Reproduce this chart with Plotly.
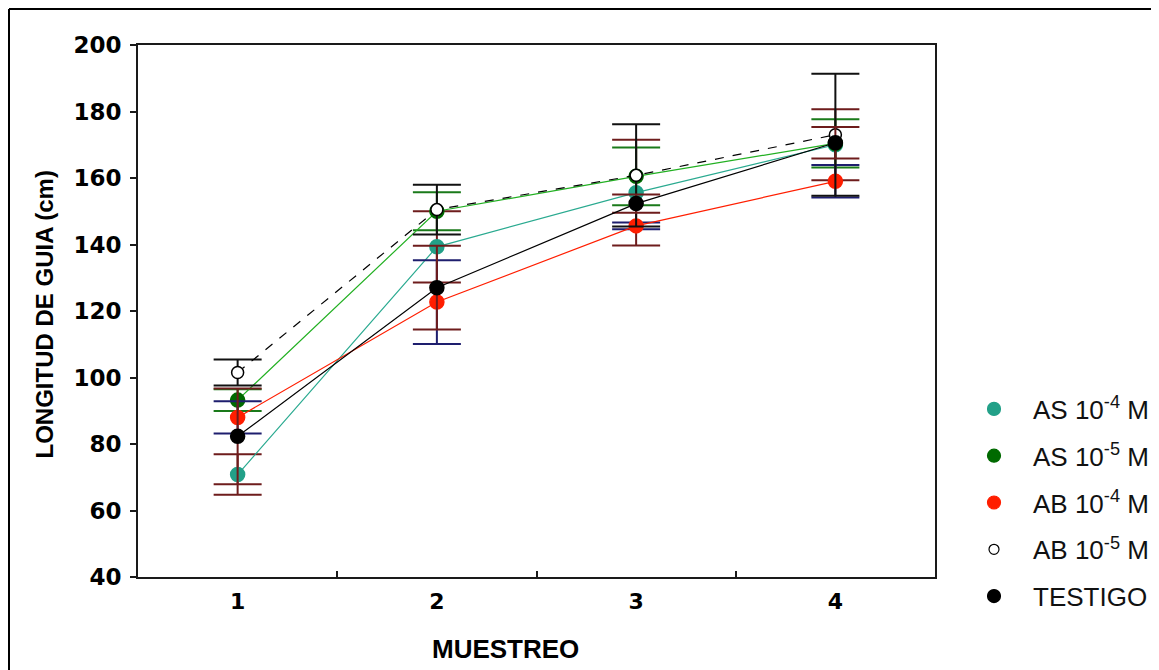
import plotly.graph_objects as go

muestreo = [1, 2, 3, 4]
series_names = ["AS 10<sup>-4</sup> M", "AS 10<sup>-5</sup> M", "AB 10<sup>-4</sup> M",
                "AB 10<sup>-5</sup> M", "TESTIGO"]

as4 = [70.8, 139.3, 155.6, 170.0]
as4_err = [6.1, 10.7, 15.9, 10.7]
as5 = [93.2, 150.0, 160.5, 170.4]
as5_err = [3.3, 5.7, 8.7, 7.25]
ab4 = [88.0, 122.7, 145.6, 159.0]
ab4_err = [4.85, 12.6, 1.0, 4.9]
ab5 = [101.5, 150.5, 160.8, 173.0]
ab5_err = [3.9, 7.5, 15.4, 18.35]
testigo = [82.3, 127.0, 152.3, 170.6]
testigo_err = [14.4, 12.6, 2.75, 4.75]

y_ticks = [40, 60, 80, 100, 120, 140, 160, 180, 200]
x_title = "MUESTREO"
y_title = "LONGITUD DE GUIA (cm)"

values = [as4, as5, ab4, ab5, testigo]
errors = [as4_err, as5_err, ab4_err, ab5_err, testigo_err]
line_colors = ["#2AAA90", "#22B022", "#FF1E00", "#000000", "#000000"]
line_dash = ["solid", "solid", "solid", "dash", "solid"]
marker_colors = ["#22A088", "#006A00", "#FF1E00", "#FFFFFF", "#000000"]
marker_lines = ["#22A088", "#006A00", "#FF1E00", "#000000", "#000000"]
err_colors = ["#6E1C1C", "#1A7A1A", "#1E1E6E", "#111111", "#6E1C1C"]

# page has an 8px body margin: figure is drawn 8px right/down
W, H = 1151, 662
L, R, T, B = 130, 224, 37, 93
pw, ph = W - L - R, H - T - B

fig = go.Figure()
for i in range(5):
    fig.add_trace(go.Scatter(
        x=muestreo, y=values[i], mode="lines+markers", showlegend=False,
        line=dict(color=line_colors[i], width=1.2, dash=line_dash[i]),
        marker=dict(size=14 if i != 3 else 12, color=marker_colors[i],
                    line=dict(color=marker_lines[i], width=1.5)),
        error_y=dict(type="data", array=errors[i], visible=True,
                     color=err_colors[i], thickness=2, width=24),
    ))

# legend-only entries (markers only)
for i in range(5):
    fig.add_trace(go.Scatter(
        x=[None], y=[None], mode="markers", name=series_names[i],
        legendgroup=str(i),
        marker=dict(size=13 if i != 3 else 10, color=marker_colors[i],
                    line=dict(color=marker_lines[i], width=1.2)),
    ))

fig.update_layout(
    width=W, height=H,
    margin=dict(l=L, r=R, t=T, b=B, autoexpand=False),
    paper_bgcolor="white", plot_bgcolor="white",
    font=dict(family="Liberation Sans, Arial, sans-serif", color="#000000"),
    legend=dict(x=(947 - L) / pw, xanchor="left", y=0.36, yanchor="top",
                font=dict(size=26, color="#111111"), itemwidth=68,
                traceorder="grouped", tracegroupgap=10,
                bgcolor="rgba(0,0,0,0)"),
    shapes=[
        dict(type="line", xref="paper", yref="paper",
             x0=(1 - L) / pw, x1=2.0, y0=1 + (T - 1) / ph, y1=1 + (T - 1) / ph,
             line=dict(color="#000000", width=2)),
        dict(type="line", xref="paper", yref="paper",
             x0=(1 - L) / pw, x1=(1 - L) / pw, y0=-1.0, y1=1 + (T - 1) / ph,
             line=dict(color="#000000", width=2)),
    ],
    annotations=[
        dict(text="<b>" + x_title + "</b>", xref="paper", yref="paper",
             x=(497.5 - L) / pw, y=(H - B - 641) / ph, xanchor="center", yanchor="middle",
             showarrow=False, font=dict(size=26, color="#000000")),
        dict(text="<b>" + y_title + "</b>", xref="paper", yref="paper",
             x=(36 - L) / pw, y=(H - B - 306.5) / ph, xanchor="center", yanchor="middle",
             textangle=-90, showarrow=False, font=dict(size=24, color="#000000")),
    ],
)

fig.update_xaxes(
    range=[0.5, 4.5], tickvals=muestreo, ticktext=[str(v) for v in muestreo],
    ticks="", showgrid=False, zeroline=False,
    showline=True, linecolor="#1a1a1a", linewidth=2, mirror=True,
    ticklabelstandoff=4,
    tickfont=dict(family="DejaVu Sans, sans-serif", size=22, color="#000000", weight="bold"),
    minor=dict(tickvals=[1.5, 2.5, 3.5], ticks="inside", ticklen=6,
               tickcolor="#1a1a1a", tickwidth=1.5),
)
fig.update_yaxes(
    range=[40, 200], tickvals=y_ticks, ticks="outside", ticklen=6,
    tickcolor="#1a1a1a", tickwidth=1.5,
    showgrid=False, zeroline=False, ticklabelstandoff=4,
    showline=True, linecolor="#1a1a1a", linewidth=2, mirror=True,
    tickfont=dict(family="DejaVu Sans, sans-serif", size=23, color="#000000", weight="bold"),
)

fig.write_html("out.html")
